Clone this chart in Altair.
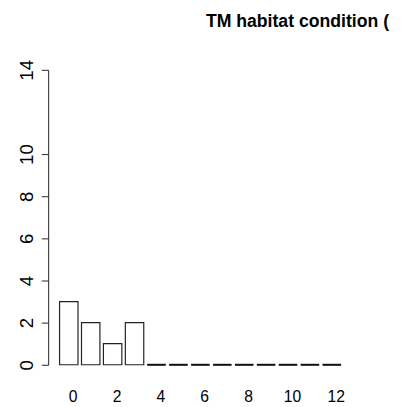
import altair as alt
import pandas as pd

categories = list(range(13))
counts = [3, 2, 1, 2, 0, 0, 0, 0, 0, 0, 0, 0, 0]
y_ticks = [0, 2, 4, 6, 8, 10, 14]
x_ticks = [0, 2, 4, 6, 8, 10, 12]
title_text = "TM habitat condition ("

df = pd.DataFrame({"k": categories, "n": counts})

regular = "Liberation Sans, Arial, sans-serif"

x_scale = alt.Scale(domain=[-0.94, 12.96], nice=False, zero=False)
y_scale = alt.Scale(domain=[0, 14], nice=False)

base = alt.Chart(df).transform_calculate(lo="datum.k - 0.42", hi="datum.k + 0.42")

bars = base.mark_bar(fill="white", stroke="#222222", strokeWidth=1.2).encode(
    x=alt.X(
        "lo:Q",
        scale=x_scale,
        axis=alt.Axis(
            values=x_ticks,
            title=None,
            grid=False,
            domain=False,
            ticks=False,
            tickSize=0,
            labelFont=regular,
            labelFontSize=16,
            labelColor="black",
            labelPadding=24,
            labelOffset=4,
            labelFlush=False,
            labelOverlap=False,
        ),
    ),
    x2="hi:Q",
    y=alt.Y(
        "n:Q",
        scale=y_scale,
        axis=alt.Axis(
            values=y_ticks,
            title=None,
            grid=False,
            domainColor="#222222",
            tickColor="#222222",
            tickSize=7,
            labelAngle=270,
            labelAlign="center",
            labelBaseline="alphabetic",
            labelFont=regular,
            labelFontSize=19,
            labelColor="black",
            labelPadding=9,
            labelOverlap=False,
            labelFlush=False,
        ),
    ),
    y2=alt.datum(0),
)

zero_lines = (
    base.transform_filter("datum.n == 0")
    .mark_rule(color="#111111", strokeWidth=2)
    .encode(x=alt.X("lo:Q", scale=x_scale), x2="hi:Q", y=alt.Y("n:Q", scale=y_scale))
)

chart = (
    alt.layer(bars, zero_lines)
    .properties(
        width=311,
        height=301,
        background="white",
        title=alt.TitleParams(
            title_text,
            anchor="start",
            frame="group",
            dx=161,
            offset=29,
            font=regular,
            fontSize=18,
            fontWeight="bold",
            color="black",
        ),
        autosize=alt.AutoSizeParams(type="none"),
        padding={"left": 41, "top": 59, "right": 45, "bottom": 40},
    )
    .configure_view(stroke="transparent", strokeWidth=0)
)

chart.save("out.html", embed_options={"renderer": "svg", "actions": False})
